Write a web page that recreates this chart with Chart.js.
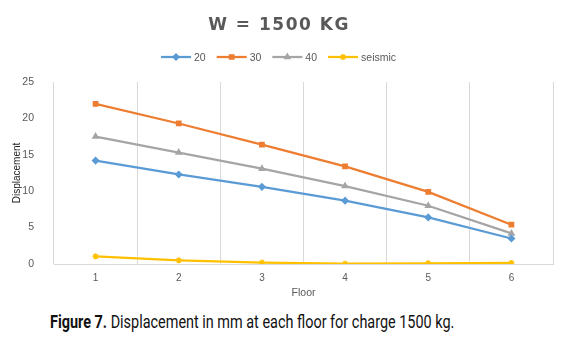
<!DOCTYPE html>
<html>
<head>
<meta charset="utf-8">
<script src="https://cdn.jsdelivr.net/npm/chart.js@4.4.1/dist/chart.umd.min.js"></script>
<style>
  html, body { margin: 0; padding: 0; background: #fff; }
  #wrap { position: relative; width: 585px; height: 344px; }
  #box { position: absolute; left: 0; top: 0; width: 585px; height: 305px; }
  #caption {
    position: absolute; left: 50px; top: 311px; white-space: nowrap;
    font-family: "Roboto", "Liberation Sans", sans-serif;
    font-size: 18.5px; color: #111;
    transform: scaleX(0.78); transform-origin: 0 0;
  }
  #caption b { font-weight: bold; }
</style>
</head>
<body>
<div id="wrap">
  <div id="box"><canvas id="graphCanvas"></canvas></div>
  <div id="caption"><b>Figure 7.</b> Displacement in mm at each floor for charge 1500 kg.</div>
</div>
<script>
var floors = ['1', '2', '3', '4', '5', '6'];
var disp20 = [14.2, 12.3, 10.6, 8.7, 6.4, 3.5];
var disp30 = [22.0, 19.3, 16.4, 13.4, 9.9, 5.4];
var disp40 = [17.5, 15.3, 13.1, 10.7, 8.0, 4.2];
var seismic = [1.05, 0.5, 0.2, 0.05, 0.1, 0.15];
var yTicks = [0, 5, 10, 15, 20, 25];

var grey = '#595959';

// title + excel style legend (line with marker)
var headerPlugin = {
    id: 'header',
    afterDraw: function(chart) {
        var ctx = chart.ctx;
        ctx.save();
        ctx.fillStyle = grey;
        ctx.font = 'bold 17px "DejaVu Sans"';
        ctx.letterSpacing = '1.5px';
        ctx.textAlign = 'center';
        ctx.textBaseline = 'middle';
        ctx.fillText('W = 1500 KG', 279, 26);
        ctx.letterSpacing = '0px';

        var x = 161, y = 57;
        ctx.font = '10.5px "Liberation Sans"';
        ctx.textAlign = 'left';
        chart.data.datasets.forEach(function(ds) {
            ctx.strokeStyle = ds.borderColor;
            ctx.fillStyle = ds.borderColor;
            ctx.lineWidth = 2.25;
            ctx.beginPath();
            ctx.moveTo(x, y);
            ctx.lineTo(x + 30, y);
            ctx.stroke();
            ctx.lineWidth = 1.5;
            Chart.helpers.drawPoint(ctx, {
                pointStyle: ds.pointStyle, radius: 3, rotation: 0, borderWidth: 1.5
            }, x + 15, y);
            ctx.fillStyle = grey;
            ctx.fillText(ds.label, x + 33, y + 1);
            x += 33 + ctx.measureText(ds.label).width + 11;
        });
        ctx.restore();
    }
};

function series(label, data, color, style) {
    return {
        label: label,
        data: data,
        borderColor: color,
        backgroundColor: color,
        borderWidth: 2.25,
        pointStyle: style,
        pointRadius: 3,
        pointBorderWidth: 1.5,
        tension: 0
    };
}

var chartdata = {
    labels: floors,
    datasets: [
        series('20', disp20, '#5B9BD5', 'rectRot'),
        series('30', disp30, '#ED7D31', 'rect'),
        series('40', disp40, '#A5A5A5', 'triangle'),
        series('seismic', seismic, '#FFC000', 'star')
    ]
};

var lineGraph = new Chart(document.getElementById('graphCanvas'), {
    type: 'line',
    data: chartdata,
    plugins: [headerPlugin],
    options: {
        responsive: true,
        maintainAspectRatio: false,
        animation: false,
        layout: { padding: { top: 82, right: 32, left: 0, bottom: 0 } },
        plugins: {
            legend: { display: false },
            title: { display: false },
            tooltip: { enabled: false }
        },
        scales: {
            x: {
                offset: true,
                grid: { offset: true, color: '#D9D9D9', drawTicks: false },
                border: { color: '#D9D9D9' },
                ticks: { color: grey, padding: 8, font: { family: 'Liberation Sans', size: 10 } },
                title: {
                    display: true, text: 'Floor', color: grey,
                    font: { family: 'Liberation Sans', size: 10.5 },
                    padding: { top: 0, bottom: 6 }
                },
                afterFit: function(axis) { axis.height = 41; }
            },
            y: {
                min: 0,
                max: 25,
                afterBuildTicks: function(axis) {
                    axis.ticks = yTicks.map(function(v) { return { value: v }; });
                },
                grid: { display: false },
                border: { display: false },
                ticks: { color: grey, padding: 12, font: { family: 'Liberation Sans', size: 10.5 } },
                title: {
                    display: true, text: 'Displacement', color: '#222',
                    font: { family: 'Liberation Sans', size: 10 },
                    padding: { top: 11, bottom: 0 }
                },
                afterFit: function(axis) { axis.width = 54; }
            }
        }
    }
});
</script>
</body>
</html>
